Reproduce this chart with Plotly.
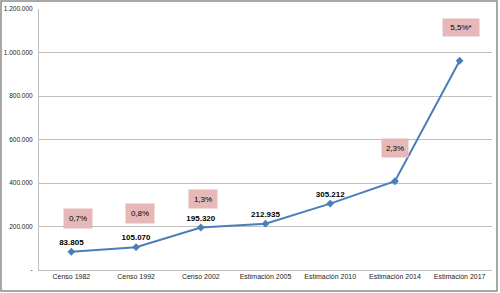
import plotly.graph_objects as go

categories = ["Censo 1982", "Censo 1992", "Censo 2002", "Estimación 2005",
              "Estimación 2010", "Estimación 2014", "Estimación 2017"]
population = [83805, 105070, 195320, 212935, 305212, 408000, 962000]
value_labels = ["83.805", "105.070", "195.320", "212.935", "305.212", "", ""]
growth_idx = [0, 1, 2, 5, 6]
growth_text = ["0,7%", "0,8%", "1,3%", "2,3%", "5,5%*"]
tick_vals = [0, 200000, 400000, 600000, 800000, 1000000, 1200000]
tick_text = ["-", "200.000", "400.000", "600.000", "800.000", "1.000.000", "1.200.000"]

FONT = "Liberation Sans, Arial, sans-serif"

fig = go.Figure()
fig.add_trace(go.Scatter(
    x=categories, y=population, mode="lines+markers+text",
    text=value_labels, textposition="top center",
    textfont=dict(family=FONT, size=8, color="#000000", weight="bold"),
    line=dict(color="#4a7ebb", width=2),
    marker=dict(symbol="diamond", size=6, color="#4a7ebb"),
    cliponaxis=False, showlegend=False,
))

box_y = [239000, 262000, 326500, 561000, 1117000]
box_shift = [7, 4, 2, 0, 1]
box_w = [28, 28, 28, 26, 36]
box_h = [19, 19, 18, 18, 17]
for i, t, by, sh, w, h in zip(growth_idx, growth_text, box_y, box_shift, box_w, box_h):
    fig.add_annotation(
        x=categories[i], y=by, text=t, showarrow=False, xshift=sh,
        bgcolor="#e6b9b8", width=w, height=h, borderpad=0,
        font=dict(family=FONT, size=8, color="#000000"),
        xanchor="center", yanchor="middle",
    )

# outer frame
L, B, W, H = 39, 270, 453, 261
fig.add_shape(type="rect", xref="paper", yref="paper",
              x0=(1 - L) / W, x1=(497 - L) / W,
              y0=(B - 291) / H, y1=(B - 1) / H,
              line=dict(color="#8c8c8c", width=1.5), fillcolor="rgba(0,0,0,0)",
              layer="above")

fig.update_layout(
    width=500, height=293,
    margin=dict(l=39, r=8, t=9, b=23),
    paper_bgcolor="white", plot_bgcolor="white",
    font=dict(family=FONT, size=7, color="#222222"),
    xaxis=dict(range=[-0.5, 6.5], showgrid=False, showline=True, linecolor="#bfbfbf",
               linewidth=1, ticks="", tickfont=dict(family=FONT, size=7),
               fixedrange=True, automargin=False),
    yaxis=dict(range=[0, 1200000], tickvals=tick_vals, ticktext=tick_text,
               showgrid=True, gridcolor="#bfbfbf", gridwidth=1, showline=True,
               linecolor="#bfbfbf", linewidth=1, ticks="", zeroline=False,
               tickfont=dict(family=FONT, size=6.5), ticklabelstandoff=4,
               automargin=False),
)
fig.write_html("out.html", config={"displayModeBar": False},
               post_script="document.body.style.margin='0';")
